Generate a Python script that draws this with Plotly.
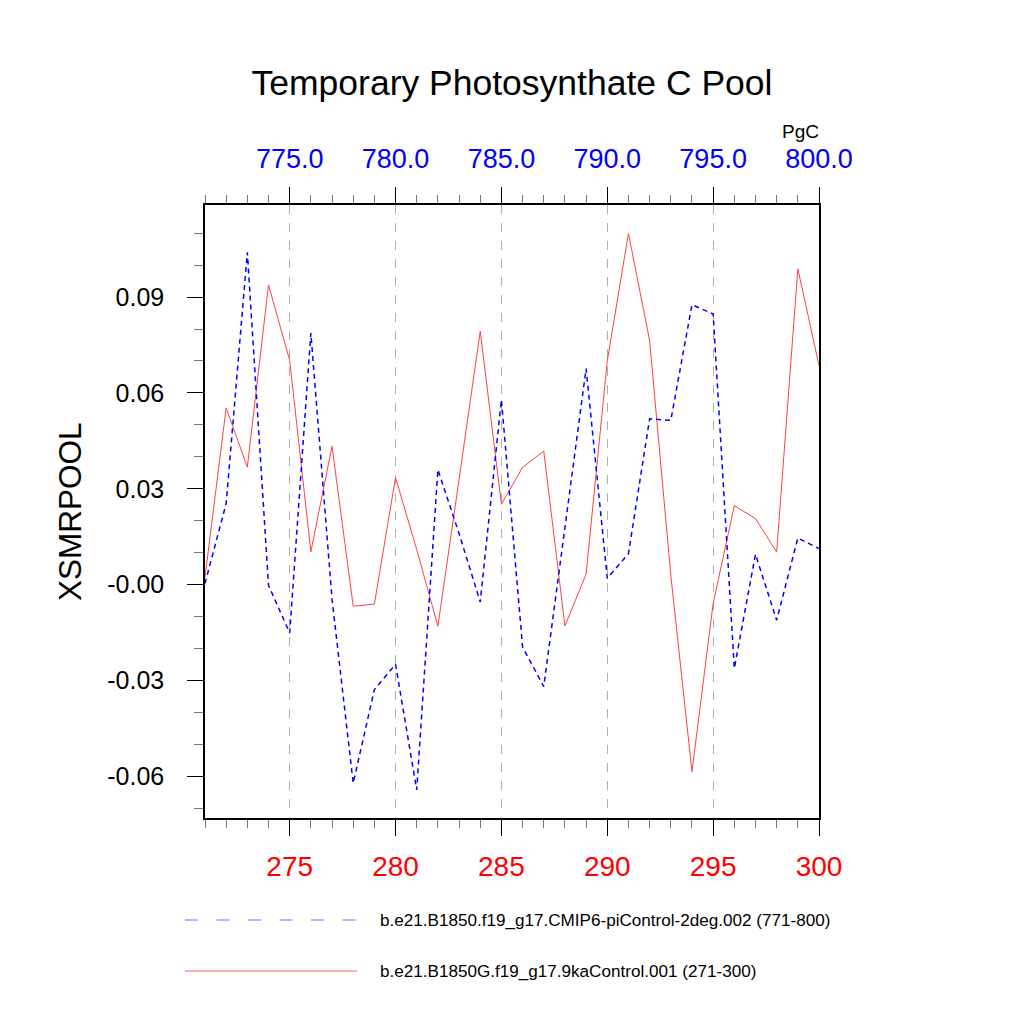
import plotly.graph_objects as go

# years of each run
years_9ka = list(range(271, 301))
years_pi = list(range(771, 801))

# XSMRPOOL (PgC)
xsmr_9ka = [0.0024, 0.0553, 0.0368, 0.0938, 0.0702, 0.0103, 0.0433, -0.0067, -0.0061, 0.0335,
            0.0110, -0.0130, 0.0330, 0.0793, 0.0252, 0.0367, 0.0418, -0.0129, 0.0033, 0.0700,
            0.1099, 0.0764, 0.0030, -0.0585, -0.0059, 0.0247, 0.0207, 0.0102, 0.0988, 0.0686]
xsmr_pi = [0.0004, 0.0254, 0.1040, -0.0002, -0.0151, 0.0787, -0.0045, -0.0621, -0.0328, -0.0249,
           -0.0642, 0.0360, 0.0160, -0.0054, 0.0579, -0.0195, -0.0319, 0.0175, 0.0676, 0.0020,
           0.0097, 0.0519, 0.0514, 0.0876, 0.0847, -0.0262, 0.0095, -0.0111, 0.0146, 0.0113]

y_tickvals = [0.09, 0.06, 0.03, 0.0, -0.03, -0.06]
y_ticktext = ["0.09", "0.06", "0.03", "-0.00", "-0.03", "-0.06"]
bottom_ticks = [275, 280, 285, 290, 295, 300]
top_ticks = [775, 780, 785, 790, 795, 800]

name_pi = "b.e21.B1850.f19_g17.CMIP6-piControl-2deg.002 (771-800)"
name_9ka = "b.e21.B1850G.f19_g17.9kaControl.001 (271-300)"

FONT = "Liberation Sans, Arial, sans-serif"
OFF = 8  # page body margin shifts the figure by this much

fig = go.Figure()

fig.add_trace(go.Scatter(
    x=years_9ka, y=xsmr_9ka, mode="lines",
    line=dict(color="#ff4040", width=1),
    name=name_9ka, xaxis="x", yaxis="y",
))
fig.add_trace(go.Scatter(
    x=years_pi, y=xsmr_pi, mode="lines",
    line=dict(color="blue", width=1.5, dash="5px,4px"),
    name=name_pi, xaxis="x2", yaxis="y",
))

fig.update_layout(
    width=1024, height=1024,
    margin=dict(l=205 - OFF, r=1024 - 819 + OFF, t=205 - OFF, b=1024 - 818 + OFF),
    paper_bgcolor="white", plot_bgcolor="white",
    showlegend=False,
    font=dict(family=FONT, color="black"),
    title=dict(text="Temporary Photosynthate C Pool", x=0.5, xanchor="center",
               xref="paper", y=1 - (83 - OFF) / 1024, yref="container", yanchor="middle",
               font=dict(size=35.5, family=FONT, color="black")),
    xaxis=dict(
        range=[271, 300], tickmode="array", tickvals=bottom_ticks,
        tickfont=dict(size=28, color="red"), ticks="outside", ticklen=16,
        tickwidth=1.2, tickcolor="black", ticklabelstandoff=7,
        showline=True, linecolor="black", linewidth=1.5,
        showgrid=True, gridcolor="#b0b0b0", griddash="dash", gridwidth=1,
        zeroline=False,
        minor=dict(tickmode="linear", tick0=271, dtick=1, ticks="outside",
                   ticklen=8, tickcolor="#777777", showgrid=False),
    ),
    xaxis2=dict(
        range=[771, 800], overlaying="x", side="top", anchor="y",
        tickmode="array", tickvals=top_ticks, tickformat=".1f",
        tickfont=dict(size=27, color="blue"), ticks="outside", ticklen=16,
        tickwidth=1.2, tickcolor="black", ticklabelstandoff=8,
        showline=True, linecolor="black", linewidth=1.5,
        showgrid=False, zeroline=False,
        minor=dict(tickmode="linear", tick0=771, dtick=1, ticks="outside",
                   ticklen=8, tickcolor="#777777", showgrid=False),
    ),
    yaxis=dict(
        range=[-0.0730, 0.1188], tickmode="array", tickvals=y_tickvals,
        ticktext=y_ticktext, tickfont=dict(size=25, color="black"),
        ticks="outside", ticklen=16, tickwidth=1.2, tickcolor="black",
        ticklabelstandoff=18,
        showline=True, linecolor="black", linewidth=1.5, mirror=True,
        showgrid=False, zeroline=False,
        minor=dict(tickmode="linear", tick0=0, dtick=0.01, ticks="outside",
                   ticklen=9, tickcolor="#777777", showgrid=False),
    ),
)

# y title and unit label
fig.add_annotation(text="XSMRPOOL", xref="paper", yref="paper",
                   x=(70 - 205) / 614, y=(818 - 512) / 613, textangle=-90,
                   showarrow=False, xanchor="center", yanchor="middle",
                   font=dict(size=31.5, family=FONT, color="black"))
fig.add_annotation(text="PgC", xref="paper", yref="paper",
                   x=(800 - 205) / 614, y=(818 - 131) / 613,
                   showarrow=False, xanchor="center", yanchor="middle",
                   font=dict(size=19, family=FONT, color="black"))

# legend drawn below the plot, NCL style
legend_rows = [
    (name_pi, "#7070ff", "13px,18.5px", 920),
    (name_9ka, "#ff6060", "solid", 971),
]
for label, color, dash, py in legend_rows:
    yy = (818 - py) / 613
    fig.add_shape(type="line", xref="paper", yref="paper",
                  x0=(185 - 205) / 614, x1=(357 - 205) / 614, y0=yy, y1=yy,
                  line=dict(color=color, width=1, dash=dash))
    fig.add_annotation(text=label, xref="paper", yref="paper",
                       x=(378 - 205) / 614, y=yy, showarrow=False,
                       xanchor="left", yanchor="middle",
                       font=dict(size=17.1, family=FONT, color="black"))

fig.write_html("out.html")
